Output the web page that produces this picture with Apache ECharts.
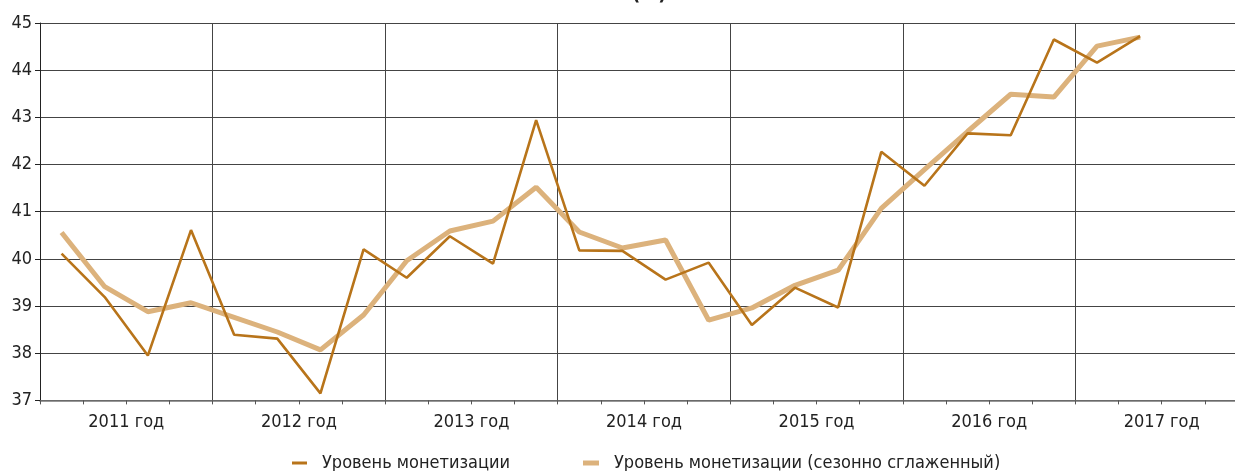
<!DOCTYPE html>
<html>
<head>
<meta charset="utf-8">
<script src="https://cdn.jsdelivr.net/npm/echarts@6/dist/echarts.min.js"></script>
<style>
  html, body { margin: 0; padding: 0; background: #fff; overflow: hidden; }
  /* the source picture is cropped on the right, so the canvas runs past the window */
  #chart { width: 1252px; height: 471px; }
</style>
</head>
<body>
<div id="chart"></div>
<script>
'use strict';

const years = ['2011 год', '2012 год', '2013 год', '2014 год', '2015 год', '2016 год', '2017 год'];
// quarters 2011 Q1 .. 2017 Q4, one category each
const quarters = [];
years.forEach(y => { for (let q = 1; q <= 4; q++) quarters.push(y.slice(0, 4) + ' Q' + q); });

const nameRaw = 'Уровень монетизации';
const nameSmooth = 'Уровень монетизации (сезонно сглаженный)';

// 2011 Q1 .. 2017 Q2
const monetization = [
  40.11, 39.19, 37.95, 40.61, 38.39, 38.31, 37.15, 40.20,
  39.60, 40.48, 39.90, 42.94, 40.18, 40.17, 39.56, 39.92,
  38.60, 39.39, 38.97, 42.27, 41.55, 42.66, 42.62, 44.65,
  44.16, 44.72
];
const monetizationSmooth = [
  40.56, 39.41, 38.88, 39.07, 38.76, 38.45, 38.07, 38.81,
  39.96, 40.59, 40.80, 41.52, 40.57, 40.23, 40.40, 38.70,
  38.96, 39.44, 39.76, 41.07, 41.89, 42.70, 43.49, 43.43,
  44.51, 44.70
];

const yTicks = { min: 37, max: 45, step: 1 };

const font = "'Liberation Sans Narrow', 'DejaVu Sans Condensed', sans-serif";
const darkColor = '#b8741a';
const lightColor = '#dcb27c';
const gridColor = '#444';

const chart = echarts.init(document.getElementById('chart'), null, { renderer: 'canvas' });

chart.setOption({
  animation: false,
  textStyle: { fontFamily: font },
  // only the bottom of the title is left in the cropped source
  title: {
    text: '(%)',
    left: 627,
    top: -20,
    textStyle: { fontFamily: font, fontSize: 20, fontWeight: 'bold', color: '#222' }
  },
  grid: { left: 40, top: 23, width: 1208, height: 377.4, containLabel: false },
  legend: [
    {
      data: [nameRaw],
      left: 287,
      top: 449,
      icon: 'rect',
      itemWidth: 15,
      itemHeight: 3,
      textStyle: { fontFamily: font, fontSize: 18, color: '#222', padding: [0, 0, 0, 10] }
    },
    {
      data: [nameSmooth],
      left: 578,
      top: 449,
      icon: 'rect',
      itemWidth: 16,
      itemHeight: 5,
      textStyle: { fontFamily: font, fontSize: 18, color: '#222', padding: [0, 0, 0, 10] }
    }
  ],
  xAxis: [
    {
      type: 'category',
      data: quarters,
      boundaryGap: true,
      axisLine: { lineStyle: { color: '#777', width: 1.5 } },
      axisTick: { show: true, interval: 0, length: 4, lineStyle: { color: '#555' } },
      axisLabel: { show: false },
      splitLine: {
        show: true,
        interval: (i) => i % 4 === 0,
        lineStyle: { color: gridColor, width: 1 }
      }
    },
    {
      type: 'category',
      data: years,
      position: 'bottom',
      boundaryGap: true,
      axisLine: { show: false },
      axisTick: { show: false },
      splitLine: { show: false },
      axisLabel: { interval: 0, margin: 13, fontSize: 18, color: '#222', fontFamily: font }
    }
  ],
  yAxis: {
    type: 'value',
    min: yTicks.min,
    max: yTicks.max,
    interval: yTicks.step,
    axisLine: { show: true, lineStyle: { color: '#222', width: 1 } },
    axisTick: { show: true, length: 5, lineStyle: { color: '#222' } },
    axisLabel: { margin: 8, fontSize: 18, color: '#222', fontFamily: font },
    splitLine: { show: true, lineStyle: { color: gridColor, width: 1 } }
  },
  series: [
    {
      name: nameSmooth,
      type: 'line',
      xAxisIndex: 0,
      data: monetizationSmooth,
      showSymbol: false,
      lineStyle: { color: lightColor, width: 5 },
      itemStyle: { color: lightColor }
    },
    {
      name: nameRaw,
      type: 'line',
      xAxisIndex: 0,
      data: monetization,
      showSymbol: false,
      lineStyle: { color: darkColor, width: 2.6 },
      itemStyle: { color: darkColor }
    }
  ]
});
</script>
</body>
</html>
